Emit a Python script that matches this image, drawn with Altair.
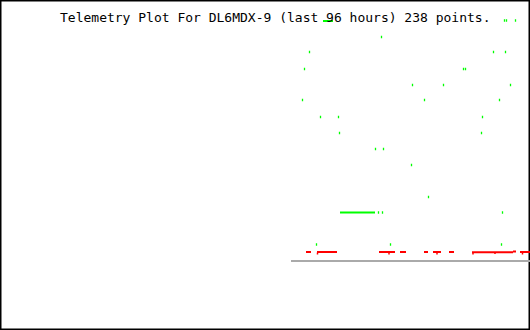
import altair as alt
import pandas as pd

TITLE = "Telemetry Plot For DL6MDX-9 (last 96 hours) 238 points."

# isolated green samples (time position, value position)
green_x = [381, 309, 493, 505, 304, 463, 465, 412, 443, 510, 302, 424, 499,
           320, 338, 482, 339, 481, 375, 383, 411, 428, 378, 382, 502,
           316, 390, 501, 504, 506, 515]
green_y = [37, 52, 52, 52, 69, 69, 69, 85, 85, 85, 100, 100, 100,
           117, 117, 117, 133, 133, 149, 149, 165, 197, 212.5, 212.5, 212.5,
           244.5, 244.5, 244.5, 20.5, 20.5, 20.5]

# dense green runs (start, end, value)
grun_start = [323, 340]
grun_end = [333, 375]
grun_y = [21, 212.5]

# red runs (start, end, value)
red_start = [306, 317, 379, 400, 424, 433, 449, 472, 513, 520]
red_end = [311, 337, 395, 406, 428, 441, 454, 513, 516, 530]
red_y = [252, 252, 252, 252, 252, 252, 252, 252.3, 251.5, 252]

# small red dips
dip_x = [317.5, 389, 437, 473, 495, 522.5]
dip_y = [253.5, 253.5, 253.5, 253.5, 253, 253.5]

base_start, base_end, base_y = 291, 530, 261

xs = alt.Scale(domain=[0, 530], nice=False, zero=False)
ys = alt.Scale(domain=[330, 0], nice=False, zero=False)
noax = None

gpts = pd.DataFrame({"t": green_x, "v": green_y})
gruns = pd.DataFrame({"t": grun_start, "t2": grun_end, "v": grun_y})
rruns = pd.DataFrame({"t": red_start, "t2": red_end, "v": red_y})
rdips = pd.DataFrame({"t": dip_x, "v": dip_y})
base = pd.DataFrame({"t": [base_start], "t2": [base_end], "v": [base_y]})

baseline = alt.Chart(base).mark_rule(color="#aaaaaa", strokeWidth=2).encode(
    x=alt.X("t:Q", scale=xs, axis=noax), x2="t2:Q",
    y=alt.Y("v:Q", scale=ys, axis=noax))

red = alt.Chart(rruns).mark_rule(color="#ff0000", strokeWidth=2).encode(
    x=alt.X("t:Q", scale=xs, axis=noax), x2="t2:Q",
    y=alt.Y("v:Q", scale=ys, axis=noax))

reddips = alt.Chart(rdips).mark_tick(color="#ff0000", orient="vertical",
                                     size=2, thickness=1.5, opacity=1).encode(
    x=alt.X("t:Q", scale=xs, axis=noax),
    y=alt.Y("v:Q", scale=ys, axis=noax))

gr = alt.Chart(gruns).mark_rule(color="#00ff00", strokeWidth=2).encode(
    x=alt.X("t:Q", scale=xs, axis=noax), x2="t2:Q",
    y=alt.Y("v:Q", scale=ys, axis=noax))

gp = alt.Chart(gpts).mark_tick(color="#00ff00", orient="vertical",
                               size=2.5, thickness=1.3, opacity=1, xOffset=0.5).encode(
    x=alt.X("t:Q", scale=xs, axis=noax),
    y=alt.Y("v:Q", scale=ys, axis=noax))

title = alt.Chart(pd.DataFrame({"s": [TITLE]})).mark_text(
    align="left", baseline="alphabetic", font="DejaVu Sans Mono",
    fontSize=13, color="#000000").encode(
    x=alt.value(60), y=alt.value(21.5), text="s:N")

chart = alt.layer(baseline, red, reddips, gr, gp, title).properties(
    width=530, height=330, padding=0,
    autosize=alt.AutoSizeParams(type="none"),
    background="white",
).configure_view(stroke="black", strokeWidth=3)

chart.save("out.html", embed_options={"renderer": "svg", "actions": False})
